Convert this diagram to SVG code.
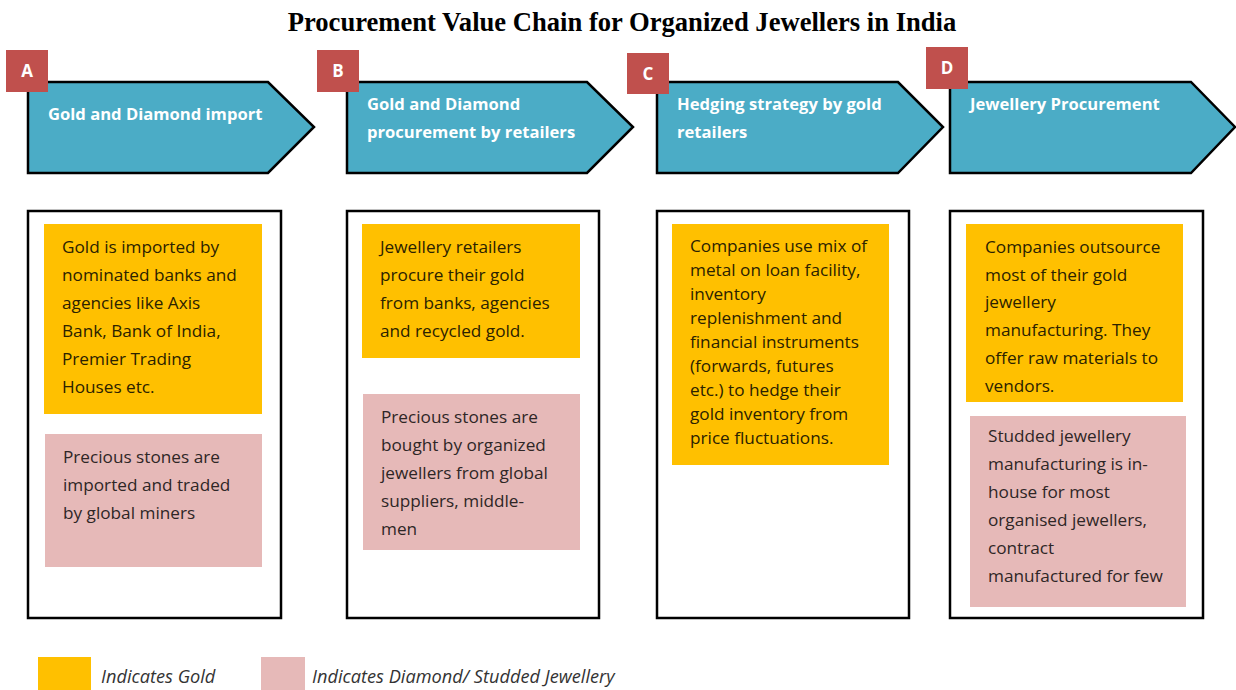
<svg xmlns="http://www.w3.org/2000/svg" width="1236" height="690" viewBox="0 0 1236 690">
<style>
.title{font-family:"Liberation Serif","Times New Roman",serif;font-weight:bold;font-size:26.6px;fill:#000}
.chev{fill:#4BACC6;stroke:#000;stroke-width:2.5;stroke-linejoin:miter}
.tag{fill:#C0504D}
.tagt{font-family:"Open Sans","Noto Sans",sans-serif;font-weight:bold;font-size:17px;fill:#fff}
.ht{font-family:"Open Sans","Noto Sans",sans-serif;font-weight:bold;font-size:16.6px;fill:#fff}
.outer{fill:#fff;stroke:#000;stroke-width:2.5}
.gold{fill:#FFC000}
.pink{fill:#E6B9B8}
.gt{font-family:"Open Sans","Noto Sans",sans-serif;font-size:17.2px;fill:#2b2200}
.pt{font-family:"Open Sans","Noto Sans",sans-serif;font-size:17.2px;fill:#2e2626}
.lg{font-family:"Open Sans","Noto Sans",sans-serif;font-style:italic;font-size:18.2px;fill:#333}
</style>
<rect width="1236" height="690" fill="#fff"/>
<text class="title" x="622" y="31" text-anchor="middle">Procurement Value Chain for Organized Jewellers in India</text>

<g id="stepA">
<polygon class="chev" points="28,82 268,82 314,127 268,173 28,173"/>
<rect class="tag" x="6" y="50" width="42" height="42"/>
<text class="tagt" x="27" y="77" text-anchor="middle">A</text>
<text class="ht" x="48" y="120">Gold and Diamond import</text>
</g>
<g id="stepB">
<polygon class="chev" points="347,82 587,82 633,127 587,173 347,173"/>
<rect class="tag" x="317" y="50" width="42" height="42"/>
<text class="tagt" x="338" y="77" text-anchor="middle">B</text>
<text class="ht" x="367" y="110">Gold and Diamond</text>
<text class="ht" x="367" y="138">procurement by retailers</text>
</g>
<g id="stepC">
<polygon class="chev" points="657,82 898,82 943,127 898,173 657,173"/>
<rect class="tag" x="627" y="53" width="42" height="41"/>
<text class="tagt" x="648" y="80" text-anchor="middle">C</text>
<text class="ht" x="677" y="110">Hedging strategy by gold</text>
<text class="ht" x="677" y="138">retailers</text>
</g>
<g id="stepD">
<polygon class="chev" points="950,82 1191,82 1235,127 1191,173 950,173"/>
<rect class="tag" x="926" y="47" width="42" height="42"/>
<text class="tagt" x="947" y="74" text-anchor="middle">D</text>
<text class="ht" x="970" y="110">Jewellery Procurement</text>
</g>

<g id="boxA">
<rect class="outer" x="28" y="211" width="253" height="407"/>
<rect class="gold" x="44" y="224" width="218" height="190"/>
<text class="gt"><tspan x="62" y="253">Gold is imported by</tspan><tspan x="62" y="281">nominated banks and</tspan><tspan x="62" y="309">agencies like Axis</tspan><tspan x="62" y="337">Bank, Bank of India,</tspan><tspan x="62" y="365">Premier Trading</tspan><tspan x="62" y="393">Houses etc.</tspan></text>
<rect class="pink" x="45" y="434" width="217" height="133"/>
<text class="pt"><tspan x="63" y="463">Precious stones are</tspan><tspan x="63" y="491">imported and traded</tspan><tspan x="63" y="519">by global miners</tspan></text>
</g>
<g id="boxB">
<rect class="outer" x="347" y="211" width="252" height="407"/>
<rect class="gold" x="362" y="224" width="218" height="134"/>
<text class="gt"><tspan x="380" y="253">Jewellery retailers</tspan><tspan x="380" y="281">procure their gold</tspan><tspan x="380" y="309">from banks, agencies</tspan><tspan x="380" y="337">and recycled gold.</tspan></text>
<rect class="pink" x="363" y="394" width="217" height="156"/>
<text class="pt"><tspan x="381" y="423">Precious stones are</tspan><tspan x="381" y="451">bought by organized</tspan><tspan x="381" y="479">jewellers from global</tspan><tspan x="381" y="507">suppliers, middle-</tspan><tspan x="381" y="535">men</tspan></text>
</g>
<g id="boxC">
<rect class="outer" x="657" y="211" width="252" height="407"/>
<rect class="gold" x="672" y="224" width="217" height="241"/>
<text class="gt"><tspan x="690" y="252">Companies use mix of</tspan><tspan x="690" y="276">metal on loan facility,</tspan><tspan x="690" y="300">inventory</tspan><tspan x="690" y="324">replenishment and</tspan><tspan x="690" y="348">financial instruments</tspan><tspan x="690" y="372">(forwards, futures</tspan><tspan x="690" y="396">etc.) to hedge their</tspan><tspan x="690" y="420">gold inventory from</tspan><tspan x="690" y="444">price fluctuations.</tspan></text>
</g>
<g id="boxD">
<rect class="outer" x="950" y="211" width="253" height="407"/>
<rect class="gold" x="966" y="224" width="217" height="178"/>
<text class="gt"><tspan x="985" y="253">Companies outsource</tspan><tspan x="985" y="281">most of their gold</tspan><tspan x="985" y="308">jewellery</tspan><tspan x="985" y="336">manufacturing. They</tspan><tspan x="985" y="364">offer raw materials to</tspan><tspan x="985" y="392">vendors.</tspan></text>
<rect class="pink" x="970" y="416" width="216" height="191"/>
<text class="pt"><tspan x="988" y="442">Studded jewellery</tspan><tspan x="988" y="470">manufacturing is in-</tspan><tspan x="988" y="498">house for most</tspan><tspan x="988" y="526">organised jewellers,</tspan><tspan x="988" y="554">contract</tspan><tspan x="988" y="582">manufactured for few</tspan></text>
</g>

<g id="connectors"></g>

<g id="legend">
<rect class="gold" x="38" y="657" width="53" height="33"/>
<text class="lg" x="101" y="683">Indicates Gold</text>
<rect class="pink" x="261" y="657" width="44" height="33"/>
<text class="lg" x="312" y="683">Indicates Diamond/ Studded Jewellery</text>
</g>
</svg>
